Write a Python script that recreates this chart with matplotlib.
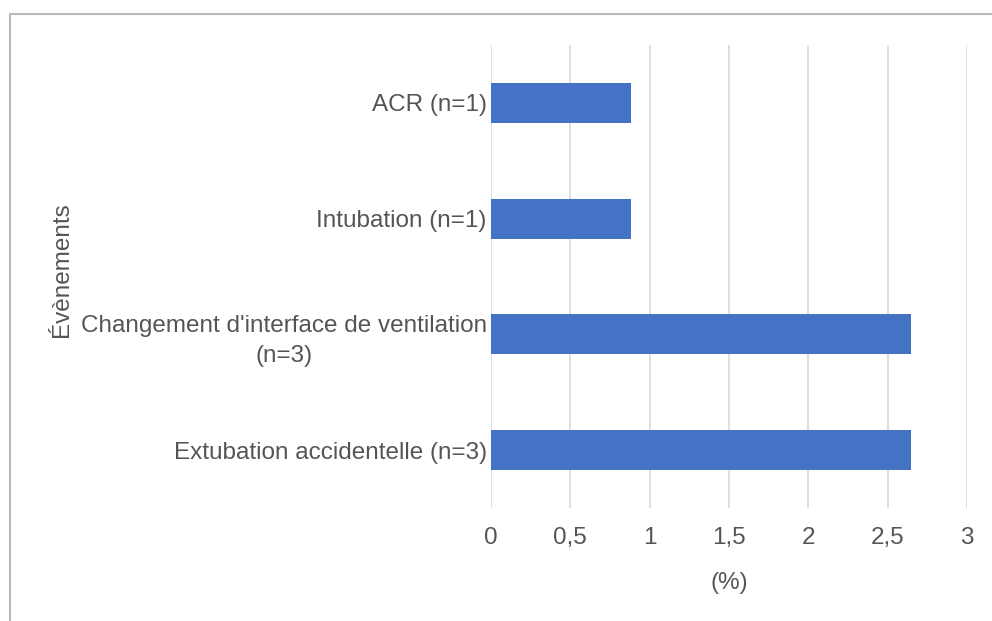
import matplotlib
matplotlib.use("Agg")
import matplotlib.pyplot as plt
from matplotlib.patches import Rectangle
from matplotlib.ticker import FuncFormatter


# valeurs (n / 113 patients)
evenements = [
    "ACR (n=1)",
    "Intubation (n=1)",
    "Changement d'interface de ventilation\n(n=3)",
    "Extubation accidentelle (n=3)",
]
pourcentages = [0.88, 0.88, 2.65, 2.65]
x_ticks = [0, 0.5, 1, 1.5, 2, 2.5, 3]

BAR_COLOR = "#4472C4"
TEXT_COLOR = "#555555"
GRID_COLOR = "#d9d9d9"

plt.rcParams["font.family"] = ["Liberation Sans", "DejaVu Sans"]
plt.rcParams["font.size"] = 17.5


def fr_num(v, pos=None):
    s = f"{v:g}"
    return s.replace(".", ",")


def main():
    fig = plt.figure(figsize=(9.92, 6.21), dpi=100)
    ax = fig.add_axes([491 / 992, 1 - 508 / 621, (967 - 491) / 992, (508 - 45) / 621])

    ypos = list(range(len(evenements)))
    ax.barh(ypos, pourcentages, height=0.345, color=BAR_COLOR, zorder=3)

    ax.set_xlim(0, 3)
    ax.set_ylim(len(evenements) - 0.5, -0.5)
    ax.set_xticks(x_ticks)
    ax.xaxis.set_major_formatter(FuncFormatter(fr_num))
    ax.set_yticks(ypos)
    ax.set_yticklabels(evenements, multialignment="center", linespacing=1.45)

    ax.grid(axis="x", color=GRID_COLOR, linewidth=1.2, zorder=0)
    ax.tick_params(axis="x", length=0, pad=14, colors=TEXT_COLOR)
    ax.tick_params(axis="y", length=0, pad=3, colors=TEXT_COLOR)
    for side in ["top", "right", "bottom", "left"]:
        ax.spines[side].set_visible(False)

    ax.set_xlabel("(%)", color=TEXT_COLOR, labelpad=16)
    ax.set_ylabel("Évènements", color=TEXT_COLOR)
    ax.yaxis.set_label_coords(73 / 992, 1 - 270 / 621, transform=fig.transFigure)

    # cadre gris du graphique (coupé à droite et en bas)
    frame = Rectangle((10 / 992, -0.2), 1.2, 1.2 - 14 / 621,
                      transform=fig.transFigure, fill=False,
                      edgecolor="#bbbbbb", linewidth=1.5)
    fig.add_artist(frame)

    fig.savefig("out.png", dpi=100, facecolor="white")
    plt.close(fig)


if __name__ == "__main__":
    main()
